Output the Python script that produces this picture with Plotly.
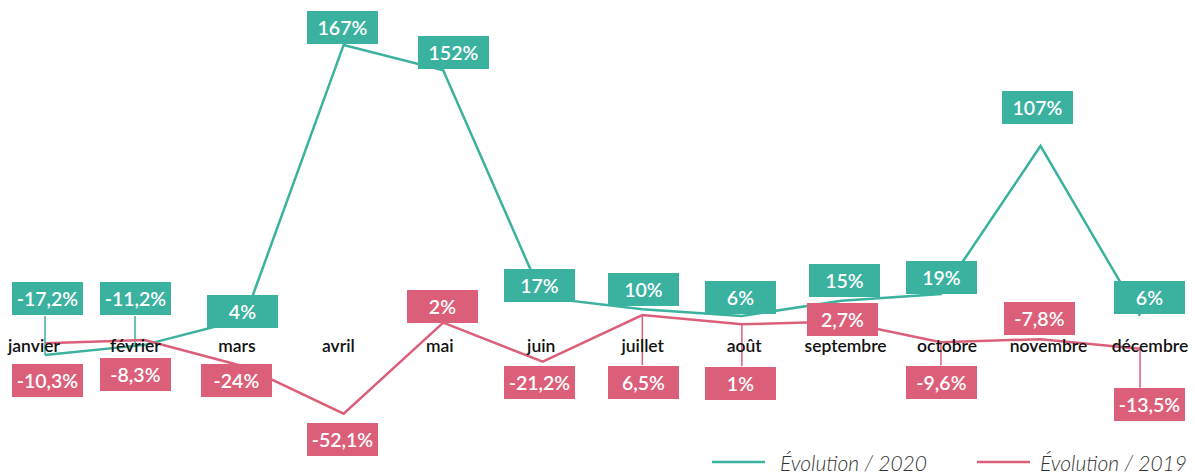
import plotly.graph_objects as go

months = ["janvier", "février", "mars", "avril", "mai", "juin", "juillet",
          "août", "septembre", "octobre", "novembre", "décembre"]
evol_2020 = [-17.2, -11.2, 4, 167, 152, 17, 10, 6, 15, 19, 107, 6]
evol_2019 = [-10.3, -8.3, -24, -52.1, 2, -21.2, 6.5, 1, 2.7, -9.6, -7.8, -13.5]
series_names = ["Évolution / 2020", "Évolution / 2019"]

TEAL = "#3bb19f"
PINK = "#dc5f7a"
FONT = "Lato"

# label box offsets in pixels (dx, dy up) relative to each point
off_2020 = [(2, 56), (-9.5, 46), (-2, 8), (-1, 17), (10, 18), (-3, 12),
            (1, 20), (-1, 18), (3, 20), (1, 17), (-3, 38), (9, 18)]
off_2019 = [(2, -37), (-9.5, -34), (-8, -14), (-1, -26), (-1, 16), (-3, -21),
            (1, -67), (-1, -59), (1, 1.5), (1, -40), (-1, 21), (9, -56)]
# leader stems: (series, index, dx, y_end_up)
stems = [(0, 0, 0, 39), (0, 1, -9.5, 29),
         (1, 6, 0, -50), (1, 7, 0, -42), (1, 9, 0, -23), (1, 11, 0, -39)]

def fmt(v):
    return f"{v:g}".replace(".", ",") + "%"

idx = list(range(len(months)))
fig = go.Figure()
fig.add_trace(go.Scatter(x=idx, y=evol_2020, mode="lines", name=series_names[0],
                         line=dict(color=TEAL, width=2.5), showlegend=False,
                         cliponaxis=False, hoverinfo="skip"))
fig.add_trace(go.Scatter(x=idx, y=evol_2019, mode="lines", name=series_names[1],
                         line=dict(color=PINK, width=2.5), showlegend=False,
                         cliponaxis=False, hoverinfo="skip"))
fig.add_trace(go.Scatter(x=idx, y=[-13.1] * len(idx), mode="text", text=months,
                         xaxis="x2", textposition="middle center",
                         textfont=dict(family=FONT, size=17.5, color="#111111",
                                       weight=600),
                         showlegend=False, hoverinfo="skip", cliponaxis=False))

series = [(evol_2020, off_2020, TEAL), (evol_2019, off_2019, PINK)]

for s, i, dx, yend in stems:
    vals, _, col = series[s]
    fig.add_shape(type="line", xref="x", yref="y",
                  xsizemode="pixel", ysizemode="pixel",
                  xanchor=i, yanchor=vals[i],
                  x0=dx, x1=dx, y0=0, y1=yend,
                  line=dict(color=col, width=1.5), layer="below")

for vals, offs, col in series:
    for i, v in enumerate(vals):
        dx, dy = offs[i]
        fig.add_annotation(x=i, y=v, xref="x", yref="y", text=fmt(v),
                           showarrow=False, xanchor="center", yanchor="middle",
                           xshift=dx, yshift=dy, width=71, height=33,
                           bgcolor=col, borderpad=0, borderwidth=0,
                           font=dict(family=FONT, size=19.5, color="white",
                                     weight=600))

# manual legend
leg_y = 1 - 462 / 475
for (x0, x1, xt), name, col in zip([(712, 765, 780), (977, 1030, 1040)],
                                   series_names, [TEAL, PINK]):
    fig.add_shape(type="line", xref="paper", yref="paper",
                  x0=x0 / 1195, x1=x1 / 1195, y0=leg_y, y1=leg_y,
                  line=dict(color=col, width=2.5))
    fig.add_annotation(x=xt / 1195, y=0, xref="paper", yref="paper",
                       text=name, showarrow=False, xanchor="left", yanchor="bottom",
                       borderpad=0, borderwidth=0,
                       font=dict(family=FONT, size=21, color="#333333",
                                 style="italic", weight=300))

fig.update_layout(
    width=1195, height=475,
    margin=dict(l=0, r=0, t=0, b=0),
    paper_bgcolor="white", plot_bgcolor="white",
    xaxis=dict(range=[-0.452, 11.552], visible=False, fixedrange=True),
    xaxis2=dict(range=[-0.335, 11.444], visible=False, overlaying="x",
                fixedrange=True),
    yaxis=dict(range=[-88.5, 193.7], visible=False, fixedrange=True),
    showlegend=False,
    hovermode=False,
)

fig.write_html("out.html", config={"displayModeBar": False},
               post_script="document.body.style.margin='0';document.body.style.overflow='hidden';")
